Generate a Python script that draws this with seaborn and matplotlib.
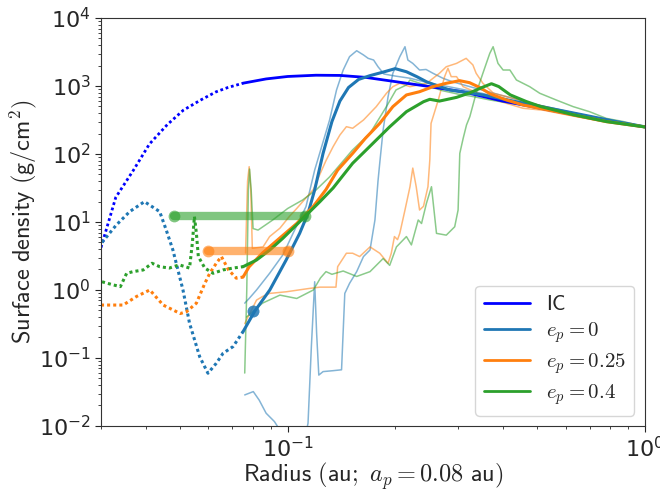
import numpy as np
import pandas as pd
import matplotlib
matplotlib.use('Agg')
import matplotlib.pyplot as plt
from matplotlib.lines import Line2D
import seaborn as sns

# ---- values (radius in au, sigma in g/cm^2) ----
# initial condition
ic_r = [0.030, 0.033, 0.037, 0.041, 0.046, 0.051, 0.057, 0.063, 0.068, 0.075, 0.087, 0.10,
        0.12, 0.14, 0.165, 0.20, 0.25, 0.31, 0.40, 0.50, 0.63, 0.80, 1.0]
ic_sig = [4.2, 23, 58, 140, 270, 440, 620, 820, 950, 1100, 1270, 1380,
          1440, 1430, 1340, 1160, 980, 820, 600, 480, 380, 300, 250]

# e_p = 0 : time average (thick) and two snapshots (thin)
e0_r = [0.0302, 0.0331, 0.0361, 0.0397, 0.0438, 0.0457, 0.0477, 0.0509, 0.0531, 0.0567, 0.0598,
        0.0631, 0.0659, 0.0703, 0.075, 0.0809, 0.0891, 0.099, 0.108, 0.114, 0.119, 0.1256, 0.133,
        0.14, 0.148, 0.158, 0.17, 0.185, 0.20, 0.215, 0.23, 0.245, 0.266, 0.284, 0.352, 0.437,
        0.542, 0.672, 0.833, 1.0]
e0_sig = [5.0, 9.0, 14.2, 19.9, 14.2, 7.6, 3.87, 1.0, 0.324, 0.104, 0.0596,
          0.0836, 0.117, 0.147, 0.244, 0.49, 1.0, 2.76, 6.8, 13.4, 29.6, 102, 300,
          600, 950, 1250, 1420, 1600, 1800, 1620, 1370, 1150, 980, 874, 738, 587,
          470, 375, 299, 251]
e0a_r = [0.0758, 0.078, 0.0818, 0.089, 0.097, 0.1035, 0.1125, 0.119, 0.131, 0.137, 0.143, 0.149,
         0.156, 0.163, 0.168, 0.174, 0.179, 0.186, 0.20, 0.22, 0.25, 0.29, 0.35, 0.45, 0.6, 0.8, 1.0]
e0a_sig = [0.64, 0.75, 1.0, 1.76, 3.3, 6.8, 16.8, 58, 316, 874, 1718, 2700,
           3300, 2860, 2550, 2410, 1920, 1500, 1400, 1300, 1100, 950, 780, 560, 410, 310, 250]
e0b_r = [0.0758, 0.0801, 0.0832, 0.087, 0.0918, 0.096, 0.105, 0.112, 0.114, 0.1165, 0.119,
         0.1205, 0.1222, 0.1256, 0.134, 0.1415, 0.1445, 0.149, 0.156, 0.163, 0.170, 0.1755,
         0.179, 0.181, 0.185, 0.191, 0.197, 0.206, 0.213, 0.217, 0.224, 0.234, 0.244, 0.255,
         0.272, 0.29, 0.33, 0.40, 0.50, 0.65, 0.80, 1.0]
e0b_sig = [0.0286, 0.032, 0.024, 0.0154, 0.0116, 0.008, 0.006, 0.007, 0.011, 0.15, 1.32,
           0.23, 0.056, 0.063, 0.065, 0.067, 0.89, 1.25, 1.86, 3.1, 3.87, 10.7,
           40, 73, 225, 697, 1538, 2700, 3780, 2410, 2150, 1718, 1750, 1540,
           1300, 1150, 950, 720, 530, 390, 310, 252]

# e_p = 0.25
e1_r = [0.030, 0.0346, 0.0377, 0.0411, 0.0448, 0.050, 0.0521, 0.0555, 0.0586, 0.0605, 0.0631,
        0.0652, 0.0683, 0.0718, 0.075, 0.078, 0.085, 0.095, 0.106, 0.118, 0.128, 0.138, 0.152,
        0.165, 0.181, 0.197, 0.215, 0.234, 0.255, 0.278, 0.303, 0.323, 0.345, 0.37, 0.41, 0.456,
        0.508, 0.63, 0.78, 1.0]
e1_sig = [0.60, 0.60, 0.80, 1.0, 0.60, 0.45, 0.48, 0.64, 1.25, 1.76, 2.47,
          3.1, 1.97, 1.49, 1.55, 2.2, 3.5, 5.8, 9.5, 17, 30, 58, 102,
          170, 282, 497, 738, 824, 977, 1096, 1197, 1119, 950, 760, 622, 525,
          470, 375, 299, 250]
e1a_r = [0.0762, 0.0772, 0.0780, 0.0788, 0.0796, 0.0853, 0.089, 0.0951, 0.101, 0.106, 0.112,
         0.118, 0.123, 0.128, 0.134, 0.140, 0.146, 0.152, 0.163, 0.177, 0.189, 0.197, 0.206,
         0.22, 0.245, 0.266, 0.278, 0.297, 0.316, 0.33, 0.337, 0.352, 0.377, 0.447, 0.5, 0.63,
         0.8, 1.0]
e1a_sig = [3.5, 40, 65, 30, 4.1, 4.3, 6.1, 8.1, 12, 15.8, 22,
           30, 50, 80, 128, 190, 252, 239, 316, 497, 781, 977, 1096,
           977, 1096, 1538, 1920, 2150, 2550, 2040, 1538, 1096, 781, 622, 530, 400,
           310, 252]
e1b_r = [0.0758, 0.0774, 0.0818, 0.085, 0.089, 0.099, 0.1145, 0.123, 0.1365, 0.138, 0.146,
         0.152, 0.159, 0.170, 0.181, 0.191, 0.195, 0.199, 0.203, 0.206, 0.213, 0.22, 0.224,
         0.229, 0.234, 0.24, 0.247, 0.25, 0.252, 0.264, 0.275, 0.281, 0.287, 0.297, 0.31,
         0.368, 0.41, 0.456, 0.52, 0.65, 0.8, 1.0]
e1b_sig = [0.32, 0.40, 0.71, 0.80, 0.89, 0.94, 1.05, 1.1, 1.1, 2.2, 3.47,
           3.47, 3.1, 4.3, 3.47, 2.47, 3.47, 6.1, 5.5, 6.8, 15, 33, 62,
           33, 15, 17, 33, 82, 282, 622, 1372, 1820, 1372, 1372, 977,
           659, 555, 470, 440, 350, 290, 248]

# e_p = 0.4
e2_r = [0.0302, 0.0324, 0.034, 0.0354, 0.0369, 0.0394, 0.0417, 0.0438, 0.0466, 0.0497, 0.0531,
        0.0541, 0.0548, 0.0555, 0.0562, 0.0586, 0.0618, 0.0659, 0.0703, 0.075, 0.0818, 0.0891,
        0.0969, 0.1057, 0.1129, 0.1232, 0.134, 0.152, 0.166, 0.193, 0.215, 0.24, 0.25, 0.266,
        0.297, 0.323, 0.35, 0.372, 0.39, 0.42, 0.466, 0.51, 0.63, 0.78, 1.0]
e2_sig = [1.32, 1.19, 1.12, 1.76, 1.86, 1.97, 2.47, 2.2, 2.1, 2.34, 2.1,
          5.0, 12, 6.8, 3.1, 2.1, 1.76, 1.97, 2.1, 2.2, 2.76, 3.87,
          5.75, 9.0, 12.7, 20, 31.6, 73, 115, 251, 419, 587, 637, 600,
          680, 790, 950, 1080, 980, 740, 590, 500, 378, 300, 250]
e2a_r = [0.0758, 0.0768, 0.0776, 0.0782, 0.0790, 0.0800, 0.0826, 0.0908, 0.100, 0.110, 0.120,
         0.131, 0.152, 0.170, 0.189, 0.201, 0.215, 0.22, 0.25, 0.272, 0.30, 0.33, 0.37, 0.42,
         0.5, 0.63, 0.8, 1.0]
e2a_sig = [0.06, 1.0, 30, 60, 30, 8.0, 7.6, 10.7, 15.8, 21, 29.5,
           46, 115, 201, 497, 874, 1035, 1225, 977, 850, 760, 700, 620, 560,
           490, 390, 310, 252]
e2b_r = [0.0767, 0.085, 0.0951, 0.106, 0.118, 0.1235, 0.128, 0.133, 0.143, 0.156, 0.170,
         0.185, 0.193, 0.2016, 0.215, 0.222, 0.232, 0.237, 0.2446, 0.2527, 0.261, 0.278,
         0.2935, 0.300, 0.3033, 0.310, 0.3167, 0.3236, 0.337, 0.352, 0.368, 0.376, 0.388,
         0.401, 0.419, 0.437, 0.476, 0.508, 0.565, 0.63, 0.70, 0.78, 0.87, 1.0]
e2b_sig = [0.40, 0.64, 0.84, 0.75, 1.0, 1.5, 1.86, 1.7, 1.9, 1.58, 1.86,
           2.9, 2.3, 4.3, 6.1, 4.6, 10.7, 9.5, 18.8, 33, 6.8, 6.4,
           8.5, 15, 102, 170, 267, 354, 781, 1538, 3020, 3780, 2150,
           1718, 1718, 1225, 977, 781, 622, 497, 419, 334, 300, 252]

# planet orbit (periapsis -> apoapsis) and the sigma level where it is marked
a_p = 0.08
ecc = [0.0, 0.25, 0.4]
orbit_sig = [0.49, 3.8, 12.4]
labels = [r'$\mathsf{IC}$', r'$e_p = 0$', r'$e_p = 0.25$', r'$e_p = 0.4$']

R_SPLIT = 0.075  # curves are dotted inside this radius


def draw(ax, r, sig, **kw):
    df = pd.DataFrame({'r': r, 'sigma': sig})
    sns.lineplot(data=df, x='r', y='sigma', ax=ax, estimator=None, sort=False, **kw)


def draw_split(ax, r, sig, color, lw=2):
    r = np.asarray(r)
    sig = np.asarray(sig)
    draw(ax, r[r <= R_SPLIT], sig[r <= R_SPLIT], color=color, lw=lw,
         linestyle=(0, (1, 1.0)))
    draw(ax, r[r >= R_SPLIT], sig[r >= R_SPLIT], color=color, lw=lw)


sns.set_style('ticks')
plt.rcParams['mathtext.fontset'] = 'cm'
plt.rcParams['axes.edgecolor'] = '0.2'

colors = sns.color_palette('tab10')[:3]

fig, ax = plt.subplots(figsize=(6.6, 4.93), dpi=100)
fig.subplots_adjust(left=0.153, right=0.977, top=0.9635, bottom=0.136)
ax.set_xscale('log')
ax.set_yscale('log')

# thin snapshot curves
for (r, s) in [(e0a_r, e0a_sig), (e0b_r, e0b_sig)]:
    draw(ax, r, s, color=colors[0], lw=1.1, alpha=0.55)
for (r, s) in [(e1a_r, e1a_sig), (e1b_r, e1b_sig)]:
    draw(ax, r, s, color=colors[1], lw=1.1, alpha=0.55)
for (r, s) in [(e2a_r, e2a_sig), (e2b_r, e2b_sig)]:
    draw(ax, r, s, color=colors[2], lw=1.1, alpha=0.55)

# initial condition and averaged profiles
draw_split(ax, ic_r, ic_sig, 'blue', lw=2)
draw_split(ax, e0_r, e0_sig, colors[0], lw=2.2)
draw_split(ax, e1_r, e1_sig, colors[1], lw=2.2)
draw_split(ax, e2_r, e2_sig, colors[2], lw=2.2)

# planet radial excursion
for e, s, c in zip(ecc, orbit_sig, colors):
    draw(ax, [a_p * (1 - e), a_p * (1 + e)], [s, s], color=c, lw=6, alpha=0.6,
         marker='o', markersize=8.5, mec=c, mew=0)

ax.set_xlim(0.03, 1.0)
ax.set_ylim(1e-2, 1e4)
ax.tick_params(axis='both', which='major', labelsize=16, length=4)
ax.tick_params(axis='both', which='minor', length=2.5)
ax.set_xlabel(r'$\mathsf{Radius\ (au;\ }a_p = 0.08\mathsf{\ au)}$', fontsize=17.5, labelpad=-1)
ax.set_ylabel(r'$\mathsf{Surface\ density\ (g/cm}^2\mathsf{)}$', fontsize=17.5, labelpad=0)

handles = [Line2D([], [], color='blue', lw=2)] + [Line2D([], [], color=c, lw=2) for c in colors]
ax.legend(handles, labels, loc='lower right', fontsize=15, handlelength=2.2, labelspacing=0.3)

plt.savefig('out.png', dpi=100)
plt.close()
